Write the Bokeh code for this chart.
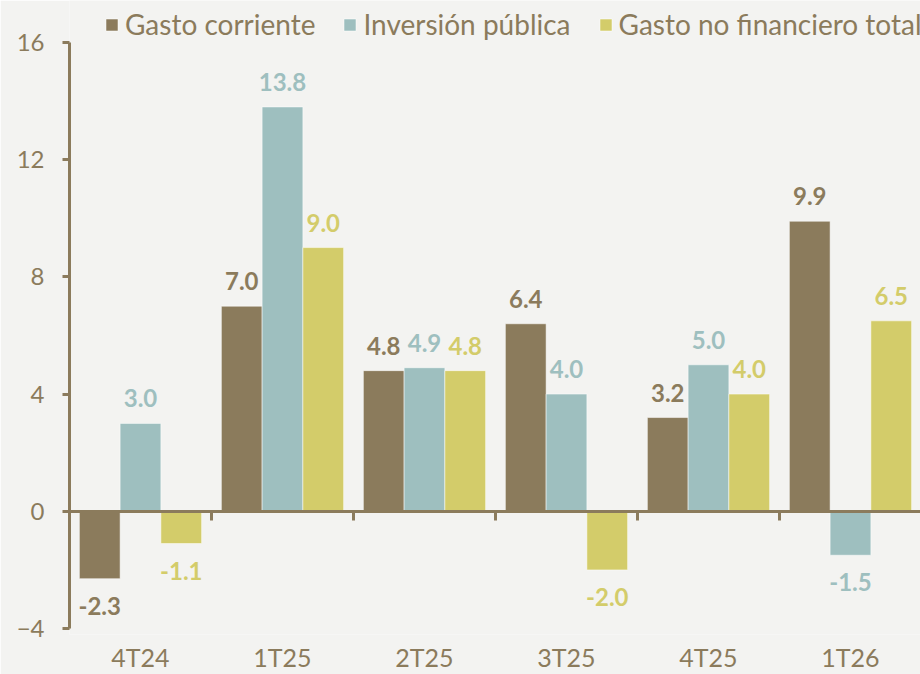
from bokeh.plotting import figure
from bokeh.models import (ColumnDataSource, Range1d, LinearAxis, FixedTicker,
                          Legend, LegendItem)
from bokeh.core.properties import value
from bokeh.embed import file_html
from bokeh.resources import INLINE

categories = ["4T24", "1T25", "2T25", "3T25", "4T25", "1T26"]
gasto_corriente = [-2.3, 7.0, 4.8, 6.4, 3.2, 9.9]
inversion_publica = [3.0, 13.8, 4.9, 4.0, 5.0, -1.5]
gasto_total = [-1.1, 9.0, 4.8, -2.0, 4.0, 6.5]
series_names = ["Gasto corriente", "Inversión pública", "Gasto no financiero total"]
colors = ["#8b7b5c", "#9ebfbf", "#d3cc6a"]
y_ticks = [-4, 0, 4, 8, 12, 16]

FONT = "Lato"
TXT = "#8b7b5c"
BG = "#f3f3f1"
BW = 0.287

p = figure(width=920, height=674, output_backend="svg", toolbar_location=None,
           x_range=Range1d(0, 5.993), y_range=Range1d(-4.205, 17.433),
           min_border_left=69, min_border_right=0, min_border_top=0,
           min_border_bottom=40, x_axis_type=None, y_axis_type=None)
p.background_fill_color = BG
p.border_fill_color = BG
p.outline_line_color = None
p.xgrid.visible = False
p.ygrid.visible = False

renderers = []
for k, (vals, col) in enumerate(zip([gasto_corriente, inversion_publica, gasto_total], colors)):
    xs = [i + 0.5 + (k - 1) * BW for i in range(len(categories))]
    src = ColumnDataSource(dict(x=xs, top=vals))
    r = p.vbar(x="x", top="top", bottom=0, width=BW, source=src,
               fill_color=col, line_color="#ffffff", line_alpha=0.5, line_width=1)
    renderers.append(r)
    pos = ColumnDataSource(dict(x=[x for x, v in zip(xs, vals) if v >= 0],
                                y=[v for v in vals if v >= 0],
                                t=[f"{v:.1f}" for v in vals if v >= 0]))
    neg = ColumnDataSource(dict(x=[x for x, v in zip(xs, vals) if v < 0],
                                y=[v for v in vals if v < 0],
                                t=[f"{v:.1f}" for v in vals if v < 0]))
    p.text(x="x", y="y", text="t", source=pos, text_align="center",
           text_baseline="bottom", y_offset=-16, text_color=col,
           text_font=value(FONT), text_font_style="bold", text_font_size="24px")
    p.text(x="x", y="y", text="t", source=neg, text_align="center",
           text_baseline="top", y_offset=18, text_color=col,
           text_font=value(FONT), text_font_style="bold", text_font_size="24px")

# y axis
yax = LinearAxis(ticker=FixedTicker(ticks=y_ticks), bounds=(-4, 16))
yax.axis_line_color = TXT
yax.axis_line_width = 3
yax.major_tick_line_color = TXT
yax.major_tick_line_width = 3
yax.major_tick_out = 7
yax.major_tick_in = 0
yax.minor_tick_line_color = None
yax.major_label_text_color = TXT
yax.major_label_text_font = FONT
yax.major_label_text_font_size = "24px"
yax.major_label_standoff = 18
p.add_layout(yax, "left")

# zero line axis with ticks at group boundaries
zax = LinearAxis(ticker=FixedTicker(ticks=list(range(1, len(categories)))), fixed_location=0)
zax.axis_line_color = TXT
zax.axis_line_width = 3
zax.major_tick_line_color = TXT
zax.major_tick_line_width = 3
zax.major_tick_out = 9
zax.major_tick_in = 0
zax.minor_tick_line_color = None
zax.major_label_text_font_size = "0px"
zax.major_label_text_color = None
zax.major_label_standoff = 0
p.add_layout(zax, "below")

# category labels axis at bottom
xax = LinearAxis(ticker=FixedTicker(ticks=[i + 0.5 for i in range(len(categories))]))
xax.major_label_overrides = {i + 0.5: c for i, c in enumerate(categories)}
xax.axis_line_color = None
xax.major_tick_line_color = None
xax.major_tick_out = 0
xax.major_tick_in = 0
xax.minor_tick_line_color = None
xax.major_label_text_color = TXT
xax.major_label_text_font = FONT
xax.major_label_text_font_size = "25px"
xax.major_label_standoff = 7
p.add_layout(xax, "below")

legend = Legend(items=[LegendItem(label=n, renderers=[r]) for n, r in zip(series_names, renderers)],
                orientation="horizontal", location=(35, 593))
legend.background_fill_alpha = 0
legend.border_line_color = None
legend.label_text_color = TXT
legend.label_text_font = FONT
legend.label_text_font_size = "28px"
legend.glyph_width = 15
legend.glyph_height = 15
legend.label_standoff = 6
legend.spacing = 27
legend.padding = 0
legend.margin = 0
p.add_layout(legend, "center")

open("out.html", "w").write(file_html(p, INLINE))
